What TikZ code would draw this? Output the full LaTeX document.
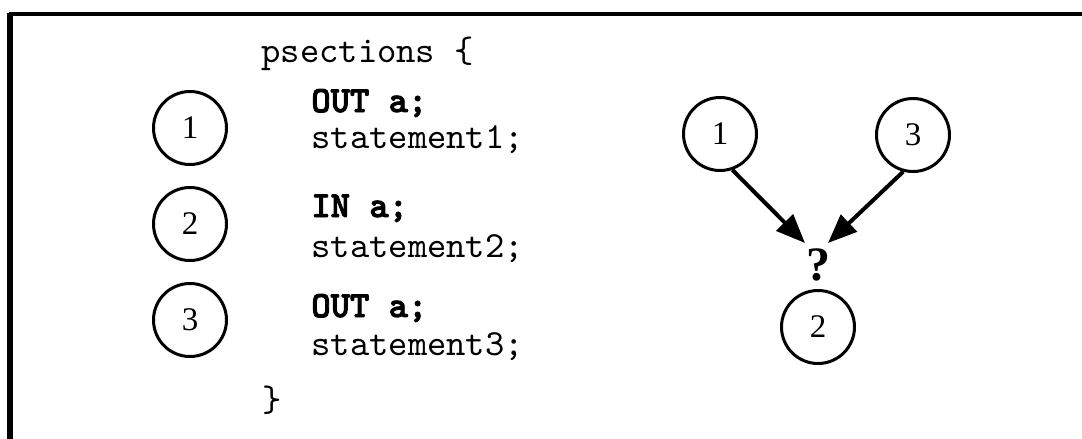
\documentclass[tikz,border=0pt]{standalone}
\usepackage{fontspec}
\setmainfont{Liberation Serif}
\newfontfamily\coderm{lmmono10-regular.otf}
\newfontfamily\codebf{lmmonolt10-bold.otf}[FakeBold=2.5]
\usetikzlibrary{arrows.meta}
\begin{document}
\begin{tikzpicture}[x=0.5pt,y=-0.5pt,
  state/.style={circle,draw,line width=1.5pt,minimum size=36.5pt,inner sep=0pt,
    font=\fontsize{16.5pt}{16.5pt}\selectfont},
  code/.style={anchor=base west,inner sep=0pt,font=\fontsize{18.4pt}{22pt}\coderm},
  kw/.style={code,font=\fontsize{18.4pt}{22pt}\codebf},
  flow/.style={line width=2pt,-{Triangle[length=14.5pt,width=11.5pt]}}]
\useasboundingbox (0,0) rectangle (1082,439);

% open frame: top and left rules
\draw[line width=2pt] (9,13.7) -- (1082,13.7);
\draw[line width=2.8pt] (10,12.7) -- (10,439);

% program text
\node[code] (head) at (261,62) {psections \{};
\node[kw]   (out1) at (311,112) {OUT a;};
\node[code] (st1)  at (311,148) {statement1;};
\node[kw]   (in2)  at (311,217) {IN a;};
\node[code] (st2)  at (311,257) {statement2;};
\node[kw]   (out3) at (311,317) {OUT a;};
\node[code] (st3)  at (311,355) {statement3;};
\node[code] (tail) at (262,411) {\}};

% section markers
\node[state] (l1) at (190,128) {1};
\node[state] (l2) at (190,224) {2};
\node[state] (l3) at (190,320) {3};

% dependence graph
\node[state] (r1) at (720,134) {1};
\node[state] (r3) at (913,135) {3};
\node[state] (r2) at (818,327) {2};
\node[inner sep=0pt,font=\fontsize{24pt}{24pt}\selectfont\bfseries] (q) at (818,265) {?};
\coordinate (t1) at (805,243);
\coordinate (t3) at (828,243);
\draw[flow] (r1.-71) -- (t1);
\draw[flow] (r3.-105) -- (t3);
\end{tikzpicture}
\end{document}
